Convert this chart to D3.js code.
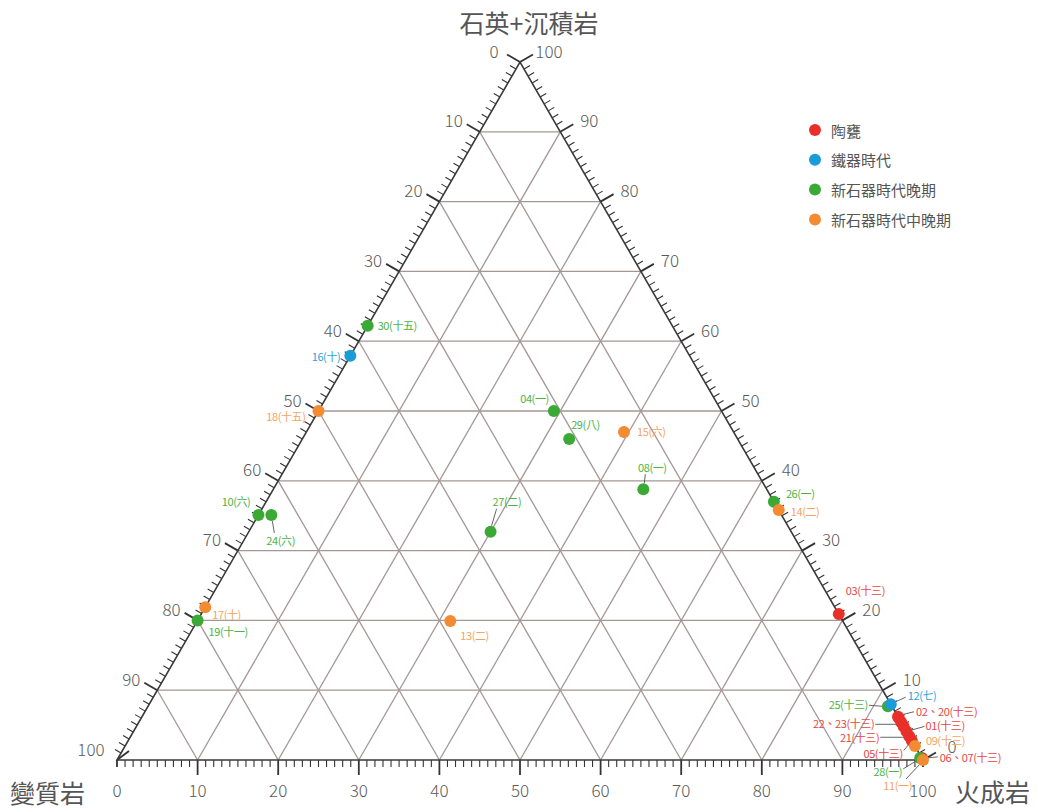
<!DOCTYPE html>
<html><head><meta charset="utf-8">
<script src="https://cdn.jsdelivr.net/npm/d3@7/dist/d3.min.js"></script>
<style>
html,body{margin:0;padding:0;background:#fff;}
svg{display:block;}
</style></head>
<body>
<svg id="chart" width="1037" height="809"></svg>
<script>
// ---------------- DATA ----------------
const categories = ["陶甕", "鐵器時代", "新石器時代晚期", "新石器時代中晚期"];
const axisTitles = ["石英+沉積岩", "變質岩", "火成岩"];
const tickValues = [0, 10, 20, 30, 40, 50, 60, 70, 80, 90, 100];

// samples (drawing order)
const sampleIds    = ["30","16","18","10","24","17","19","04","29","15","08","27","26","14","03","13",
                      "25","12","02","20","22","23","01","21","05","09","06","07","28","11"];
const sampleLabels = ["30(十五)","16(十)","18(十五)","10(六)","24(六)","17(十)","19(十一)","04(一)","29(八)","15(六)",
                      "08(一)","27(二)","26(一)","14(二)","03(十三)","13(二)","25(十三)","12(七)","02、20(十三)","",
                      "22、23(十三)","","01(十三)","21(十三)","05(十三)","09(十三)","06、07(十三)","","28(一)","11(一)"];
const sampleGroup  = [2,1,3,2,2,3,2,2,2,3,2,2,2,3,0,3,2,1,0,0,0,0,0,0,0,3,0,0,2,3];
// % quartz + sedimentary
const quartzSed    = [62.2,57.9,50.0,35.1,35.1,21.9,20.0,50.0,46.0,47.0,38.8,32.7,37.0,35.8,20.9,19.9,
                      7.7,8.0,6.2,6.0,5.4,4.8,4.1,3.4,2.8,2.0,0.3,0.2,0.3,0.0];
// % igneous
const igneous      = [0.0,0.0,0.0,0.0,1.6,0.0,0.0,29.2,33.1,39.4,45.9,30.0,63.0,64.2,79.1,31.4,
                      91.8,92.0,93.8,94.0,94.6,95.2,95.9,96.6,97.2,98.0,99.7,99.8,99.5,100.0];
// % metamorphic
const metamorphic  = quartzSed.map((q,i) => +(100 - q - igneous[i]).toFixed(1));

// ---------------- LAYOUT / STYLE ----------------
const colors      = ["#e8302b", "#1b9bd7", "#3ba935", "#f28b32"];
const labelColors = ["#e8453f", "#2aa3db", "#4cb246", "#f5a45e"];
// label placement relative to the point: dx, dy, anchor, optional leader line
const labelLayout = {
  "30":{dx:10,dy:-1,a:"start"}, "16":{dx:-10,dy:0,a:"end"}, "18":{dx:-13,dy:5,a:"end"},
  "10":{dx:-8,dy:-14,a:"end"}, "24":{dx:-5,dy:25,a:"start",l:[1,6,3,18]},
  "17":{dx:7,dy:7,a:"start"}, "19":{dx:11,dy:11,a:"start"},
  "04":{dx:-5,dy:-13,a:"end"}, "29":{dx:2,dy:-15,a:"start"}, "15":{dx:13,dy:-1,a:"start"},
  "08":{dx:9,dy:-22,a:"middle",l:[1,-6,2,-15]}, "27":{dx:2,dy:-31,a:"start",l:[1,-6,6,-23]},
  "26":{dx:12,dy:-9,a:"start"}, "14":{dx:12,dy:1,a:"start"}, "03":{dx:7,dy:-24,a:"start"},
  "13":{dx:10,dy:14,a:"start"},
  "12":{dx:17,dy:-9,a:"start",l:[4,-2,15,-7]}, "25":{dx:-20,dy:-2,a:"end",l:[-6,0,-19,-1]},
  "02":{dx:18,dy:-6,a:"start",l:[4,-2,16,-5]}, "22":{dx:-27,dy:1,a:"end",l:[-4,2,-26,2]},
  "01":{dx:19,dy:-6,a:"start",l:[4,-1,18,-5]}, "21":{dx:-30,dy:1,a:"end",l:[-5,1,-29,1]},
  "05":{dx:-9,dy:13,a:"end",l:[-3,4,-8,10]}, "09":{dx:11,dy:-6,a:"start"},
  "06":{dx:18,dy:-1,a:"start",l:[5,0,16,-1]}, "28":{dx:-18,dy:13,a:"end",l:[-4,3,-17,11]},
  "11":{dx:-11,dy:25,a:"end",l:[-3,4,-17,19]}
};

const FONT = "'Noto Sans CJK TC','Noto Sans',sans-serif";
const svg = d3.select("#chart");

// ternary scales: horizontal position from (igneous + quartz/2), vertical from quartz
const xScale = d3.scaleLinear().domain([0, 100]).range([117, 923]);
const yScale = d3.scaleLinear().domain([0, 100]).range([760, 62]);
const P = (q, ign) => [xScale(ign + q / 2), yScale(q)];

const gridG = svg.append("g");
const gridColor = "#a49696";
const line = d3.line();
for (let k = 10; k <= 90; k += 10) {
  gridG.append("path").attr("d", line([P(k, 0), P(k, 100 - k)]));          // constant quartz
  gridG.append("path").attr("d", line([P(0, k), P(100 - k, k)]));          // constant igneous
  gridG.append("path").attr("d", line([P(0, 100 - k), P(100 - k, 0)]));    // constant metamorphic
}
gridG.selectAll("path").attr("fill", "none").attr("stroke", gridColor).attr("stroke-width", 1.3);

// ticks
const tickG = svg.append("g").attr("stroke", "#333").attr("fill", "none");
const c30 = Math.cos(Math.PI / 6), s30 = 0.5;
const minorLen = 7, majorLen = 15;
for (let t = 0; t <= 100; t++) {
  const major = t % 10 === 0;
  {
    const [x, y] = P(0, t);
    const L = (major && t !== 0 && t !== 100) ? majorLen : minorLen;
    tickG.append("line").attr("x1", x).attr("y1", y).attr("x2", x).attr("y2", y + L)
      .attr("stroke-width", major ? 1.8 : 1.1);
  }
  {
    const [x, y] = P(100 - t, 0);
    const L = major ? majorLen : minorLen;
    let dx = -c30, dy = -s30;
    if (t === 100) { dx = 0.8; dy = -0.6; }
    tickG.append("line").attr("x1", x).attr("y1", y).attr("x2", x + dx * L).attr("y2", y + dy * L)
      .attr("stroke-width", major ? 1.8 : 1.1);
  }
  {
    const [x, y] = P(t, 100 - t);
    const L = major ? majorLen : minorLen;
    tickG.append("line").attr("x1", x).attr("y1", y).attr("x2", x + c30 * L).attr("y2", y - s30 * L)
      .attr("stroke-width", major ? 1.8 : 1.1);
  }
}

// triangle frame
svg.append("path")
  .attr("d", line([P(0, 0), P(0, 100), P(100, 0)]) + "Z")
  .attr("fill", "none").attr("stroke", "#3a3a3a").attr("stroke-width", 1.6);

// tick labels
const tl = svg.append("g").attr("font-family", FONT).attr("font-size", 17)
  .attr("fill", "#5a5a5a").attr("font-weight", 300).attr("dominant-baseline", "central");
tickValues.forEach(t => {
  let [x, y] = P(0, t);
  tl.append("text").attr("x", x).attr("y", y + 29).attr("text-anchor", "middle").text(t);
  [x, y] = P(100 - t, 0);
  tl.append("text").attr("x", x - 26).attr("y", y - 12).attr("text-anchor", "middle").text(t);
  [x, y] = P(t, 100 - t);
  tl.append("text").attr("x", x + 29).attr("y", y - (t === 0 ? 15 : 12)).attr("text-anchor", "middle").text(t);
});

// axis titles
const at = svg.append("g").attr("font-family", FONT).attr("font-size", 25)
  .attr("fill", "#555").attr("dominant-baseline", "central");
at.append("text").attr("x", 529).attr("y", 22).attr("text-anchor", "middle").text(axisTitles[0]);
at.append("text").attr("x", 10).attr("y", 792).attr("text-anchor", "start").text(axisTitles[1]);
at.append("text").attr("x", 1030).attr("y", 791).attr("text-anchor", "end").text(axisTitles[2]);

// leader lines + labels
const labG = svg.append("g").attr("font-family", FONT).attr("font-size", 11)
  .attr("dominant-baseline", "central");
const ptG = svg.append("g");
sampleIds.forEach((id, i) => {
  const [x, y] = P(quartzSed[i], igneous[i]);
  const g = sampleGroup[i];
  const lay = labelLayout[id];
  if (lay && lay.l) {
    labG.append("line").attr("x1", x + lay.l[0]).attr("y1", y + lay.l[1])
      .attr("x2", x + lay.l[2]).attr("y2", y + lay.l[3])
      .attr("stroke", "#555").attr("stroke-width", 0.9);
  }
  if (lay && sampleLabels[i]) {
    labG.append("text").attr("x", x + lay.dx).attr("y", y + lay.dy)
      .attr("text-anchor", lay.a).attr("fill", labelColors[g])
      .attr("letter-spacing", -0.4).text(sampleLabels[i]);
  }
  ptG.append("circle").attr("cx", x).attr("cy", y).attr("r", 6).attr("fill", colors[g]);
});

// legend
const lg = svg.append("g").attr("font-family", FONT).attr("font-size", 15).attr("fill", "#555");
categories.forEach((c, i) => {
  const y = 130 + i * 29.8;
  lg.append("circle").attr("cx", 815).attr("cy", y).attr("r", 6).attr("fill", colors[i]);
  lg.append("text").attr("x", 831).attr("y", y).attr("dominant-baseline", "central").text(c);
});
</script>
</body></html>
